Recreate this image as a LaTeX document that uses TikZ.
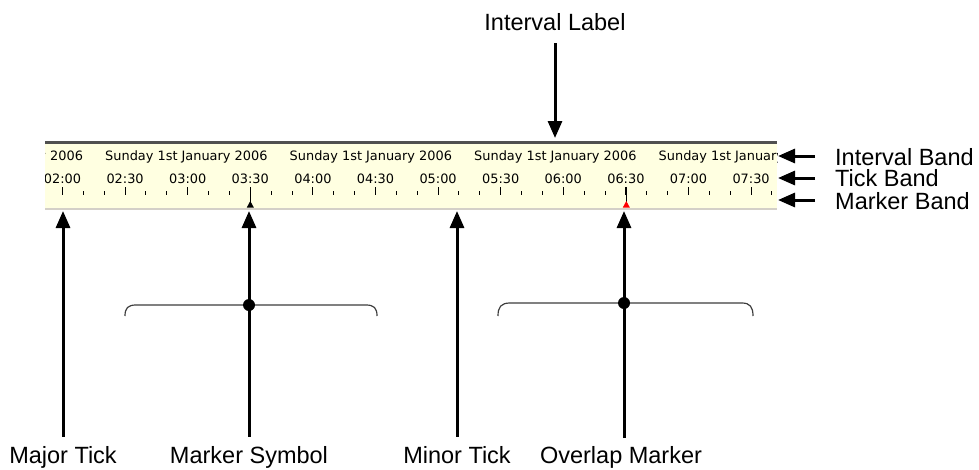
\documentclass[tikz,border=0pt]{standalone}
\usepackage{fontspec}
\setmainfont{Liberation Sans}
\newfontfamily\screenfont{DejaVu Sans}
\usetikzlibrary{arrows.meta}
\definecolor{bandfill}{RGB}{255,255,225}
\definecolor{bandtop}{RGB}{80,80,80}
\definecolor{bandbot}{RGB}{212,208,200}
\definecolor{bracegray}{RGB}{60,60,60}
\begin{document}
\begin{tikzpicture}[x=1pt,y=-1pt,
  callout/.style={line width=3pt,-{Triangle[length=17pt,width=14pt]}},
  lbl/.style={font=\fontsize{23.5}{24}\selectfont,inner sep=0pt},
  bandtxt/.style={font=\screenfont\fontsize{12.9}{13}\selectfont,inner sep=0pt},
  majortick/.style={line width=1pt,black},
  minortick/.style={line width=1pt,black},
  bracket/.style={line width=1.2pt,bracegray},
  hub/.style={circle,fill=black,inner sep=0pt,minimum size=12pt}]
\useasboundingbox (0,0) rectangle (979,469);
% ---- band ----
\fill[bandfill] (45,144) rectangle (777,208);
\draw[bandbot,line width=1.5pt] (45,209) -- (777,209);
\draw[bandtop,line width=3pt] (45,142.5) -- (777,142.5);
\begin{scope}
  \clip (45,144) rectangle (777,208);
  \foreach \s [count=\n] in {-79.5,105,289.5,474,658.5}
    \node[bandtxt,anchor=base west] (iv\n) at (\s,160) {Sunday 1st January 2006};
  \foreach \i/\t in {0/02:00,1/02:30,2/03:00,3/03:30,4/04:00,5/04:30,6/05:00,7/05:30,8/06:00,9/06:30,10/07:00,11/07:30}
    \node[bandtxt,anchor=base] (tl\i) at ({62.5+62.6*\i},183) {\t};
  \foreach \i in {0,...,11}{
    \draw[majortick] ({62.5+62.6*\i},187) -- ({62.5+62.6*\i},195);
    \foreach \j in {1,2}
      \draw[minortick] ({62.5+62.6*\i+20.867*\j},191) -- ({62.5+62.6*\i+20.867*\j},195);
  }
  % markers
  \draw[line width=1pt] (250.3,187) -- (250.3,202);
  \fill[black] (246.8,207.5) -- (250.3,201) -- (253.8,207.5) -- cycle;
  \draw[line width=1pt] (626.3,187) -- (626.3,202);
  \fill[red] (622.8,207.5) -- (626.3,201) -- (629.8,207.5) -- cycle;
\end{scope}
% ---- top label ----
\node[lbl,anchor=base] (il) at (555,30) {Interval Label};
\path (il.south) ++(0,13) coordinate (ilTail);
\coordinate (ilTip) at (555,138);
\draw[callout] (ilTail) -- (ilTip);
% ---- right labels ----
\node[lbl,anchor=base west] (ib) at (835,165.5) {Interval Band};
\node[lbl,anchor=base west] (tb) at (835,186.5) {Tick Band};
\node[lbl,anchor=base west] (mb) at (835,209.5) {Marker Band};
\coordinate (ibTip) at (778,156);
\coordinate (tbTip) at (778,178);
\coordinate (mbTip) at (778,200);
\path (ib.west |- ibTip) ++(-20,0) coordinate (ibTail);
\path (tb.west |- tbTip) ++(-20,0) coordinate (tbTail);
\path (mb.west |- mbTip) ++(-20,0) coordinate (mbTail);
\draw[callout] (ibTail) -- (ibTip);
\draw[callout] (tbTail) -- (tbTip);
\draw[callout] (mbTail) -- (mbTip);
% ---- braces ----
\draw[bracket] (125,316) .. controls (125,308) and (128,305) .. (136,305) -- (366,305) .. controls (374,305) and (377,308) .. (377,316);
\draw[bracket] (498,316) .. controls (498,307) and (501,303) .. (510,303) -- (742,303) .. controls (750,303) and (753,307) .. (753,316);
% ---- bottom labels ----
\node[lbl,anchor=base] (mt) at (63,463) {Major Tick};
\node[lbl,anchor=base] (ms) at (249,463) {Marker Symbol};
\node[lbl,anchor=base] (nt) at (457,463) {Minor Tick};
\node[lbl,anchor=base] (om) at (621,463) {Overlap Marker};
\path (mt.north) ++(0,-9) coordinate (mtTail);
\path (ms.north) ++(0,-9) coordinate (msTail);
\path (nt.north) ++(0,-9) coordinate (ntTail);
\coordinate (omTail) at (624,438);
\coordinate (mtTip) at (63,211);
\coordinate (msTip) at (249,211);
\coordinate (ntTip) at (457,211);
\coordinate (omTip) at (624,211);
\draw[callout] (mtTail) -- (mtTip);
\draw[callout] (msTail) -- (msTip);
\draw[callout] (ntTail) -- (ntTip);
\draw[callout] (omTail) -- (omTip);
\node[hub] (hub1) at (249,305) {};
\node[hub] (hub2) at (624,303) {};
\end{tikzpicture}
\end{document}
